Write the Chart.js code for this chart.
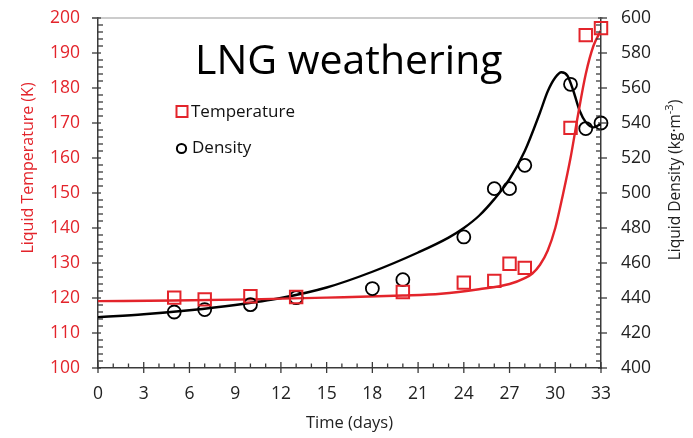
<!DOCTYPE html>
<html>
<head>
<meta charset="utf-8">
<script src="https://cdn.jsdelivr.net/npm/chart.js@4/dist/chart.umd.min.js"></script>
<style>
  html, body { margin: 0; padding: 0; background: #fff; }
  #wrap { width: 693px; height: 438px; }
</style>
</head>
<body>
<div id="wrap"><canvas id="chart" width="693" height="438"></canvas></div>
<script>
const tempDays = [5, 7, 10, 13, 20, 24, 26, 27, 28, 31, 32, 33];
const tempK = [120.1, 119.6, 120.5, 120.3, 121.7, 124.4, 124.9, 129.8, 128.6, 168.6, 195.1, 197.1];
const densDays = [5, 7, 10, 13, 18, 20, 24, 26, 27, 28, 31, 32, 33];
const densKg = [432.0, 433.4, 436.2, 440.2, 445.4, 450.5, 474.9, 502.5, 502.5, 515.8, 562.1, 536.8, 540.0];

// Model curves
const tempFitDays = [0, 5, 10, 15, 20, 22.5, 25, 27, 28, 28.5, 29, 29.5, 30, 30.5, 31, 31.5, 32, 32.5, 33];
const tempFitK = [119.1, 119.3, 119.6, 120.1, 120.7, 121.2, 122.5, 124, 125.7, 127, 129.5, 133.5, 140, 149.5, 160, 172.5, 184, 192, 196.5];
const densFitDays = [0, 3, 6, 9, 12, 15, 18, 21, 23, 24, 25, 26, 27, 28, 29, 29.5, 30, 30.4, 30.8, 31.2, 31.6, 32, 32.5, 33];
const densFitKg = [429, 430.7, 433, 436, 440, 446, 455, 466, 474.5, 480, 487, 496.5, 508, 524, 546, 558, 566, 569, 567, 558, 547, 540.5, 537.5, 539.5];

// Axes
const xTicks = [0, 3, 6, 9, 12, 15, 18, 21, 24, 27, 30, 33];
const tempTicks = [100, 110, 120, 130, 140, 150, 160, 170, 180, 190, 200];
const densTicks = [400, 420, 440, 460, 480, 500, 520, 540, 560, 580, 600];

const RED = '#e3242b';
const AXIS = '#3a3a3a';
const FONT = '"Open Sans", sans-serif';

const pts = (xs, ys) => xs.map((v, i) => ({ x: v, y: ys[i] }));

function line(ctx, x1, y1, x2, y2) {
    ctx.beginPath();
    ctx.moveTo(x1, y1);
    ctx.lineTo(x2, y2);
    ctx.stroke();
}

// ticks, frame, titles, legend
const decor = {
    id: 'decor',
    afterDraw(chart) {
        const { ctx, chartArea: a, scales: { x, y, y1 } } = chart;
        ctx.save();

        ctx.strokeStyle = '#9a9a9a';
        ctx.lineWidth = 1.2;
        line(ctx, a.left - 6, a.top, a.right + 2, a.top);

        ctx.strokeStyle = AXIS;
        ctx.lineWidth = 1.3;
        for (let v = x.min; v <= x.max; v++) {
            const px = x.getPixelForValue(v);
            const major = xTicks.includes(v);
            line(ctx, px, a.bottom + (major ? 5 : 0), px, a.bottom - (major ? 6 : 4.5));
        }
        for (let v = y.min; v <= y.max; v += 2) {
            const py = y.getPixelForValue(v);
            const major = tempTicks.includes(v);
            line(ctx, a.left - (major ? 6 : 0), py, a.left + (major ? 3 : 5), py);
        }
        for (let v = y1.min; v <= y1.max; v += 4) {
            const py = y1.getPixelForValue(v);
            const major = densTicks.includes(v);
            line(ctx, a.right + (major ? 6 : 0), py, a.right - (major ? 3 : 5), py);
        }

        // chart title
        ctx.fillStyle = '#000';
        ctx.font = '41px ' + FONT;
        ctx.textAlign = 'left';
        ctx.textBaseline = 'alphabetic';
        ctx.fillText('LNG weathering', 195, 74);

        // axis titles
        ctx.font = '16.5px ' + FONT;
        ctx.textAlign = 'center';
        ctx.textBaseline = 'middle';
        ctx.fillStyle = '#222';
        ctx.fillText('Time (days)', (a.left + a.right) / 2, 423);

        ctx.save();
        ctx.translate(28, 168);
        ctx.rotate(-Math.PI / 2);
        ctx.font = '16px ' + FONT;
        ctx.fillStyle = RED;
        ctx.fillText('Liquid Temperature (K)', 0, 0);
        ctx.restore();

        ctx.save();
        ctx.translate(676, 180);
        ctx.rotate(-Math.PI / 2);
        ctx.fillStyle = '#222';
        const main = 'Liquid Density (kg\u00b7m';
        ctx.font = '11px ' + FONT;
        const supW = ctx.measureText('-3').width;
        ctx.font = '15.5px ' + FONT;
        const mainW = ctx.measureText(main).width;
        const closeW = ctx.measureText(')').width;
        let sx = -(mainW + supW + closeW) / 2;
        ctx.textAlign = 'left';
        ctx.fillText(main, sx, 0);
        sx += mainW;
        ctx.font = '11px ' + FONT;
        ctx.fillText('-3', sx, -6);
        sx += supW;
        ctx.font = '15.5px ' + FONT;
        ctx.fillText(')', sx, 0);
        ctx.restore();

        // legend
        ctx.lineWidth = 2;
        ctx.strokeStyle = RED;
        ctx.strokeRect(176.5, 106, 11, 11);
        ctx.strokeStyle = '#000';
        ctx.beginPath();
        ctx.arc(181.5, 148.5, 4.6, 0, Math.PI * 2);
        ctx.stroke();
        ctx.fillStyle = '#111';
        ctx.font = '17px ' + FONT;
        ctx.textAlign = 'left';
        ctx.textBaseline = 'middle';
        ctx.fillText('Temperature', 191, 112);
        ctx.fillText('Density', 192, 148);

        ctx.restore();
    }
};

// keep the plot box fixed: no extra label padding from the value axes
const fixY = w => s => { s.width = w; s.paddingTop = 0; s.paddingBottom = 0; };

new Chart(document.getElementById('chart'), {
    type: 'scatter',
    data: {
        datasets: [
            {
                label: 'Temperature',
                data: pts(tempDays, tempK),
                yAxisID: 'y',
                pointStyle: 'rect',
                pointRadius: 8.8,
                pointBorderWidth: 2,
                borderColor: RED,
                backgroundColor: 'rgba(0,0,0,0)',
                clip: false,
                order: 1
            },
            {
                label: 'Density',
                data: pts(densDays, densKg),
                yAxisID: 'y1',
                pointStyle: 'circle',
                pointRadius: 6.5,
                pointBorderWidth: 1.8,
                borderColor: '#000',
                backgroundColor: 'rgba(0,0,0,0)',
                clip: false,
                order: 1
            },
            {
                label: 'Temperature model',
                data: pts(tempFitDays, tempFitK),
                yAxisID: 'y',
                showLine: true,
                pointRadius: 0,
                borderColor: RED,
                borderWidth: 2.4,
                cubicInterpolationMode: 'monotone',
                order: 2
            },
            {
                label: 'Density model',
                data: pts(densFitDays, densFitKg),
                yAxisID: 'y1',
                showLine: true,
                pointRadius: 0,
                borderColor: '#000',
                borderWidth: 2.4,
                cubicInterpolationMode: 'monotone',
                order: 2
            }
        ]
    },
    options: {
        responsive: false,
        animation: false,
        devicePixelRatio: 1,
        layout: { padding: { top: 18, left: 0, right: 0, bottom: 0 } },
        plugins: { legend: { display: false }, tooltip: { enabled: false } },
        scales: {
            x: {
                type: 'linear',
                min: 0,
                max: 33,
                afterBuildTicks: s => { s.ticks = xTicks.map(v => ({ value: v })); },
                ticks: { color: '#222', font: { family: FONT, size: 17.5 }, padding: 16 },
                grid: { display: false, drawTicks: false },
                border: { display: true, color: AXIS, width: 1.5 },
                afterFit: s => { s.height = 70; }
            },
            y: {
                position: 'left',
                min: 100,
                max: 200,
                afterBuildTicks: s => { s.ticks = tempTicks.map(v => ({ value: v })); },
                ticks: { color: RED, font: { family: FONT, size: 17.5 }, padding: 18 },
                grid: { display: false, drawTicks: false },
                border: { display: true, color: AXIS, width: 1.5 },
                afterFit: fixY(98)
            },
            y1: {
                position: 'right',
                min: 400,
                max: 600,
                afterBuildTicks: s => { s.ticks = densTicks.map(v => ({ value: v })); },
                ticks: { color: '#222', font: { family: FONT, size: 17.5 }, padding: 20 },
                grid: { display: false, drawTicks: false },
                border: { display: true, color: AXIS, width: 1.5 },
                afterFit: fixY(92)
            }
        }
    },
    plugins: [decor]
});
</script>
</body>
</html>
